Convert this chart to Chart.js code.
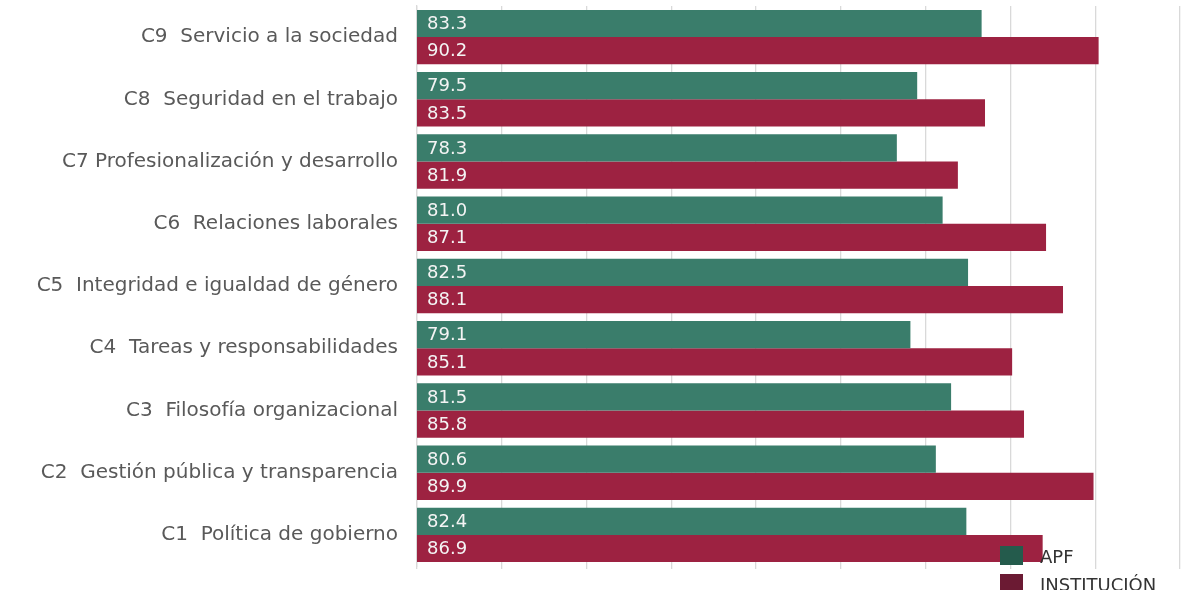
<!DOCTYPE html>
<html>
<head>
<meta charset="utf-8">
<script src="https://cdn.jsdelivr.net/npm/chart.js@4.4.1/dist/chart.umd.min.js"></script>
<style>
  html, body { margin: 0; padding: 0; background: #fff; }
  #wrap { position: relative; width: 1191px; height: 590px; }
  .key { position: absolute; left: 1000px; font: 18px "DejaVu Sans", sans-serif; color: #333; }
  .key span { position: absolute; left: 0; width: 23px; height: 19px; }
  .key b { position: absolute; left: 40px; font-weight: normal; white-space: nowrap; }
</style>
</head>
<body>
<div id="wrap">
  <canvas id="chart" width="1191" height="590"></canvas>
  <div class="key" style="top:546px"><span style="background:#245b4c"></span><b style="top:0px">APF</b></div>
  <div class="key" style="top:574px"><span style="background:#6b1a33"></span><b style="top:0px">INSTITUCIÓN</b></div>
</div>
<script>
const categories = [
  "C9  Servicio a la sociedad",
  "C8  Seguridad en el trabajo",
  "C7 Profesionalización y desarrollo",
  "C6  Relaciones laborales",
  "C5  Integridad e igualdad de género",
  "C4  Tareas y responsabilidades",
  "C3  Filosofía organizacional",
  "C2  Gestión pública y transparencia",
  "C1  Política de gobierno"
];
const apf = [83.3, 79.5, 78.3, 81.0, 82.5, 79.1, 81.5, 80.6, 82.4];
const institucion = [90.2, 83.5, 81.9, 87.1, 88.1, 85.1, 85.8, 89.9, 86.9];

const FONT = "'DejaVu Sans', sans-serif";

// value written at the start of each bar
const barValues = {
  id: "barValues",
  afterDatasetsDraw(chart) {
    const ctx = chart.ctx;
    ctx.save();
    ctx.font = "18px " + FONT;
    ctx.fillStyle = "#f4f4f4";
    ctx.textBaseline = "middle";
    chart.data.datasets.forEach((ds, i) => {
      chart.getDatasetMeta(i).data.forEach((bar, j) => {
        ctx.fillText(ds.data[j].toFixed(1), chart.chartArea.left + 10, bar.y + 1);
      });
    });
    ctx.restore();
  }
};

new Chart(document.getElementById("chart"), {
  type: "bar",
  data: {
    labels: categories,
    datasets: [
      { label: "APF", data: apf, backgroundColor: "#3a7d6b" },
      { label: "INSTITUCIÓN", data: institucion, backgroundColor: "#9d2241" }
    ]
  },
  options: {
    indexAxis: "y",
    responsive: false,
    animation: false,
    layout: { padding: { top: 6, right: 11 } },
    datasets: { bar: { categoryPercentage: 0.875, barPercentage: 1 } },
    plugins: { legend: { display: false }, tooltip: { enabled: false } },
    scales: {
      x: {
        min: 50, max: 95,
        ticks: { stepSize: 5, display: false },
        grid: { color: "#d9d9d9", lineWidth: 1.3, tickLength: 3 },
        border: { display: false },
        afterFit(scale) { scale.height = 24; }
      },
      y: {
        grid: { display: false },
        border: { color: "#d9d9d9", width: 1.3 },
        ticks: { color: "#595959", font: { family: FONT, size: 20 }, padding: 11 },
        afterFit(scale) {
          scale.width = 417;
          scale.paddingTop = 0;
          scale.paddingBottom = 0;
        }
      }
    }
  },
  plugins: [barValues]
});
</script>
</body>
</html>
